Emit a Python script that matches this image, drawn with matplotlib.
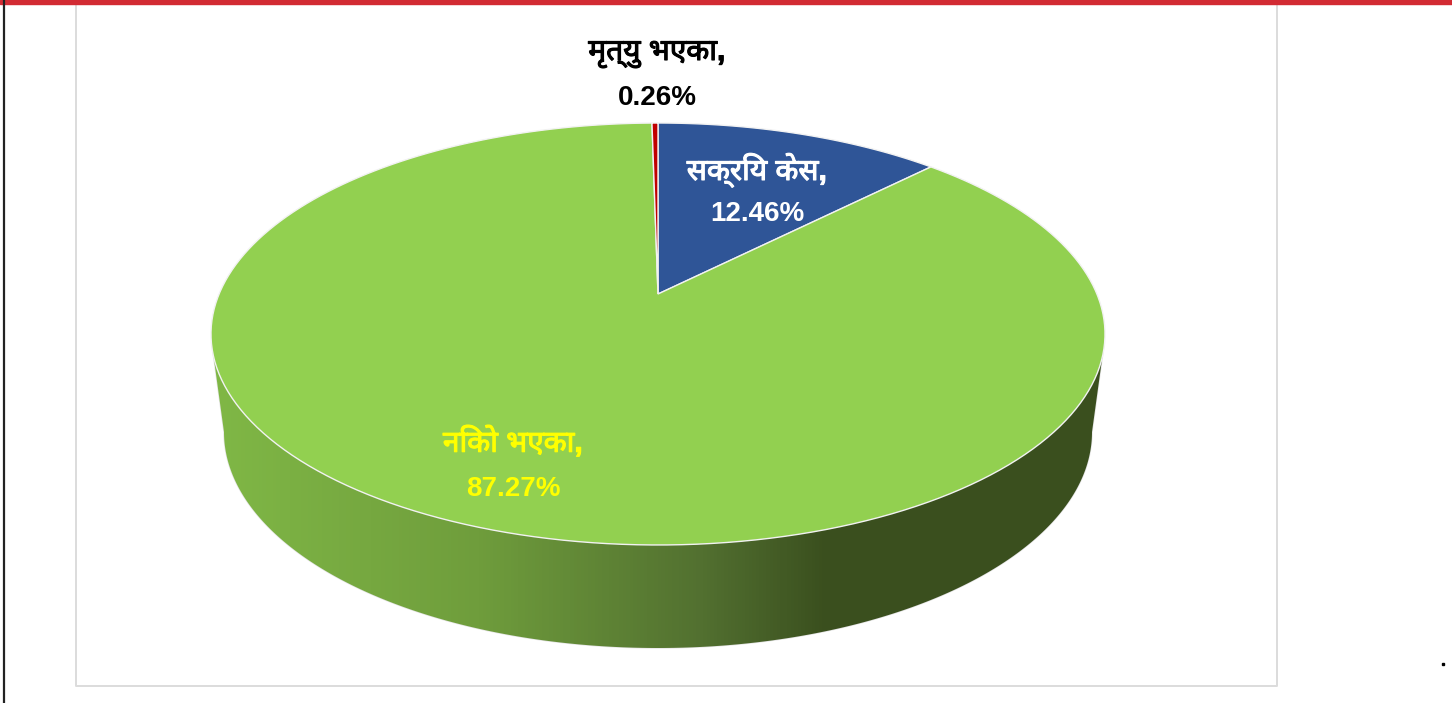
import matplotlib
matplotlib.use('Agg')
import matplotlib.pyplot as plt
import matplotlib.patheffects as pe
from matplotlib.patches import Polygon, Rectangle
from matplotlib.colors import LinearSegmentedColormap
import numpy as np

# share of cases, clockwise from the top of the pie
categories = ['सक्रिय केस', 'निको भएका', 'मृत्यु भएका']
shares = [12.46, 87.27, 0.26]
slice_colors = ['#2F5597', '#92D050', '#C00000']
label_colors = ['white', '#FFFF00', 'black']
name_pos = [(757, 170), (513, 442), (657, 54)]
share_pos = [(757, 214), (513, 489), (657, 98)]

W, H = 1452, 703
cx, cy = 658, 294    # where the slices meet
A, B, K = 438.9, 203.4, 0.1896    # tilted disc, far side is smaller

wall_cx, wall_cy, wall_rx, wall_ry = 658, 432, 434, 216
wall_stops = [(0.0, '#80B846'), (0.3, '#6F9D3C'), (0.55, '#527030'), (0.69, '#3A4F1E'), (1.0, '#3A4F1E')]


def disc_points(start, end, n=200):
    t = np.radians(np.linspace(start, end, n))
    u, v = np.sin(t), np.cos(t)
    return np.column_stack([cx + A * u / (1 + K * v), cy - B * v / (1 + K * v)])


fig = plt.figure(figsize=(W / 100, H / 100), dpi=100)
ax = fig.add_axes([0, 0, 1, 1])
ax.set_xlim(0, W)
ax.set_ylim(H, 0)
ax.axis('off')

# page furniture
ax.add_patch(Rectangle((0, 0), W, 4, color='#D22B33', zorder=5))
ax.plot([4, 4], [0, H], color='#222222', lw=1.6, zorder=5)
ax.plot([75.5, 75.5, 1277, 1277], [0, 685.5, 685.5, 0], color='#DCDCDC', lw=1.4)
ax.plot([1443], [664], marker='s', ms=2, color='black')

# side wall: top rim down to the lower rim
t = np.linspace(0, np.pi, 300)
lower = np.column_stack([wall_cx + wall_rx * np.cos(t), wall_cy + wall_ry * np.sin(t)])
wall_outline = np.vstack([[[1104, 345]], lower, [[212, 345]], [[658, 334]]])
wall = Polygon(wall_outline, closed=True, fc='none', ec='#E4E4E4', lw=1.0, zorder=1)
ax.add_patch(wall)
cmap = LinearSegmentedColormap.from_list('wall', wall_stops)
im = ax.imshow(np.linspace(0, 1, 256)[None, :], cmap=cmap, extent=(210, 1106, 650, 330), aspect='auto', zorder=1)
im.set_clip_path(wall)
ax.set_xlim(0, W)
ax.set_ylim(H, 0)

# slices
start = 0
for share, col in zip(shares, slice_colors):
    end = start + share / sum(shares) * 360
    pts = np.vstack([[[cx, cy]], disc_points(start, end)])
    ax.add_patch(Polygon(pts, closed=True, fc=col, ec='#F2F2F2', lw=1.0, zorder=2))
    start = end

# Noto Sans carries the Devanagari but only in regular here, so thicken it a little
for name, share, col, p, q in zip(categories, shares, label_colors, name_pos, share_pos):
    ax.text(p[0], p[1], name + ',', color=col, ha='center', va='center', fontsize=21.5, fontweight='bold',
            family=['Liberation Sans', 'Noto Sans', 'DejaVu Sans'], zorder=6,
            path_effects=[pe.withStroke(linewidth=0.8, foreground=col)])
    ax.text(q[0], q[1], f'{share:.2f}%', color=col, ha='center', va='center', fontsize=20, fontweight='bold',
            family='Liberation Sans', zorder=6)

fig.savefig('out.png', dpi=100)
